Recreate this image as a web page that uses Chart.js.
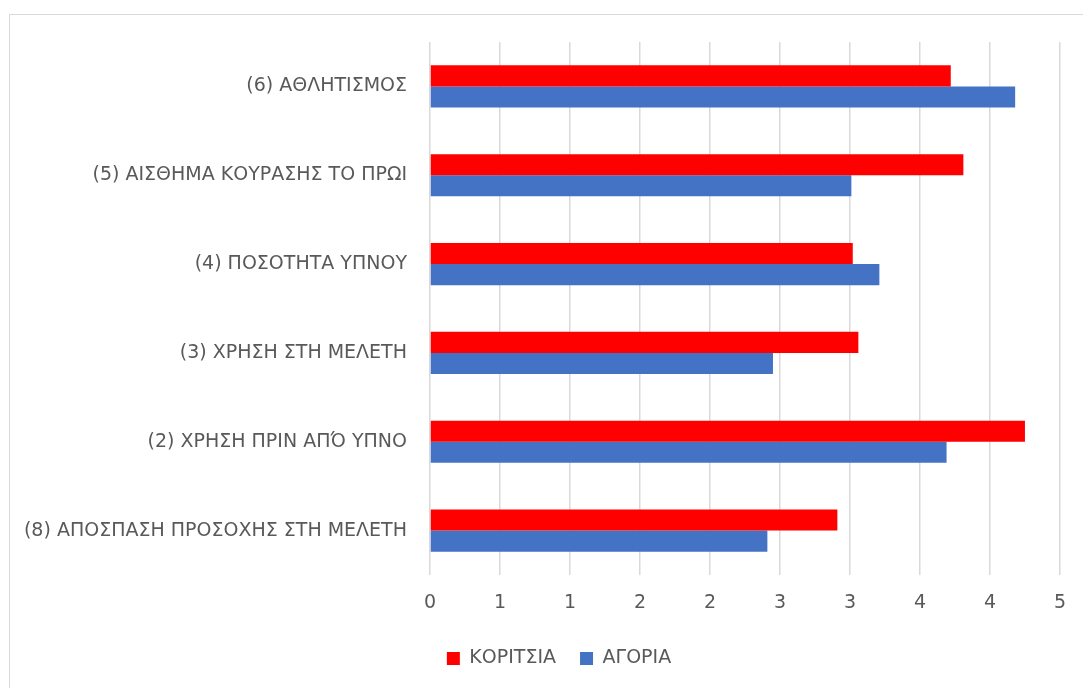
<!DOCTYPE html>
<html>
<head>
<meta charset="utf-8">
<script src="https://cdn.jsdelivr.net/npm/chart.js@4"></script>
<style>
    html, body { margin: 0; padding: 0; background: #fff; }
    #wrap { position: relative; width: 1083px; height: 688px; overflow: hidden; }
    #frame { position: absolute; left: 9px; top: 14px; width: 1100px; height: 700px; border: 1px solid #d9d9d9; box-sizing: border-box; }
    canvas { position: absolute; left: 0; top: 0; }
</style>
</head>
<body>
<div id="wrap">
    <div id="frame"></div>
    <canvas id="chart" width="1083" height="688"></canvas>
</div>
<script>
// Categories, top to bottom as shown
const categories = [
    '(6) ΑΘΛΗΤΙΣΜΟΣ',
    '(5) ΑΙΣΘΗΜΑ ΚΟΥΡΑΣΗΣ ΤΟ ΠΡΩΙ',
    '(4) ΠΟΣΟΤΗΤΑ ΥΠΝΟΥ',
    '(3) ΧΡΗΣΗ ΣΤΗ ΜΕΛΕΤΗ',
    '(2) ΧΡΗΣΗ ΠΡΙΝ ΑΠΌ ΥΠΝΟ',
    '(8) ΑΠΟΣΠΑΣΗ ΠΡΟΣΟΧΗΣ ΣΤΗ ΜΕΛΕΤΗ'
];

// Series values
const girls = [3.72, 3.81, 3.02, 3.06, 4.25, 2.91];
const boys = [4.18, 3.01, 3.21, 2.45, 3.69, 2.41];

// X axis tick labels (0 .. 4.5 step 0.5, rounded like the source)
const tickLabels = ['0', '1', '1', '2', '2', '3', '3', '4', '4', '5'];

const TEXT_COLOR = '#595959';
const FONT = { family: 'DejaVu Sans', size: 19 };

// nudge the legend a bit to the right, like the original
const legendShift = {
    id: 'legendShift',
    afterLayout(chart) {
        chart.legend.left += 23;
        chart.legend.right += 23;
    }
};

new Chart(document.getElementById('chart'), {
    type: 'bar',
    data: {
        labels: categories,
        datasets: [
            {
                label: 'ΚΟΡΙΤΣΙΑ',
                data: girls,
                backgroundColor: '#FF0000',
                barPercentage: 1,
                categoryPercentage: 0.475
            },
            {
                label: 'ΑΓΟΡΙΑ',
                data: boys,
                backgroundColor: '#4472C4',
                barPercentage: 1,
                categoryPercentage: 0.475
            }
        ]
    },
    options: {
        indexAxis: 'y',
        responsive: false,
        animation: false,
        layout: { padding: { top: 42, right: 21, bottom: 10, left: 10 } },
        plugins: {
            tooltip: { enabled: false },
            legend: {
                position: 'bottom',
                labels: {
                    color: TEXT_COLOR,
                    font: FONT,
                    boxWidth: 13,
                    boxHeight: 13,
                    padding: 24
                }
            }
        },
        scales: {
            x: {
                min: 0,
                max: 4.5,
                ticks: {
                    stepSize: 0.5,
                    color: TEXT_COLOR,
                    font: FONT,
                    padding: 17,
                    maxRotation: 0,
                    callback: (v, i) => tickLabels[i]
                },
                grid: { color: '#d9d9d9', lineWidth: 1.5, drawTicks: false },
                border: { display: false },
                afterFit: (scale) => { scale.height = 50; }
            },
            y: {
                ticks: { color: TEXT_COLOR, font: FONT, padding: 23 },
                grid: { display: false, drawTicks: false },
                border: { display: false },
                afterFit: (scale) => { scale.width = 420; }
            }
        }
    },
    plugins: [legendShift]
});
</script>
</body>
</html>
